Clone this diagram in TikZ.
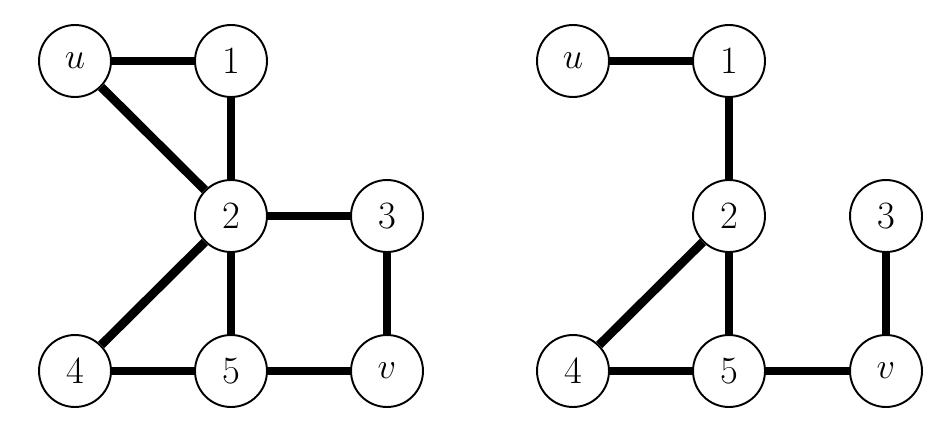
\documentclass[tikz,border=0pt]{standalone}
\begin{document}
\begin{tikzpicture}[x=0.02cm,y=-0.02cm,
  vtx/.style={circle,draw=black,line width=1.1pt,fill=white,minimum size=1.44cm,inner sep=0pt,font=\fontsize{22}{26}\selectfont},
  edge/.style={line width=5pt}]
\useasboundingbox (0,0) rectangle (949,439);
% left graph
\node[vtx] (lu) at (75,61) {$u$};
\node[vtx] (l1) at (231,61) {1};
\node[vtx] (l2) at (231,216) {2};
\node[vtx] (l3) at (387,216) {3};
\node[vtx] (l4) at (75,371) {4};
\node[vtx] (l5) at (231,371) {5};
\node[vtx] (lv) at (387,371) {$v$};
\draw[edge] (lu) -- (l1);
\draw[edge] (lu) -- (l2);
\draw[edge] (l1) -- (l2);
\draw[edge] (l2) -- (l3);
\draw[edge] (l2) -- (l4);
\draw[edge] (l2) -- (l5);
\draw[edge] (l3) -- (lv);
\draw[edge] (l4) -- (l5);
\draw[edge] (l5) -- (lv);
% right graph
\node[vtx] (ru) at (573,61) {$u$};
\node[vtx] (r1) at (729,61) {1};
\node[vtx] (r2) at (729,216) {2};
\node[vtx] (r3) at (886,216) {3};
\node[vtx] (r4) at (573,371) {4};
\node[vtx] (r5) at (729,371) {5};
\node[vtx] (rv) at (886,371) {$v$};
\draw[edge] (ru) -- (r1);
\draw[edge] (r1) -- (r2);
\draw[edge] (r2) -- (r4);
\draw[edge] (r2) -- (r5);
\draw[edge] (r4) -- (r5);
\draw[edge] (r5) -- (rv);
\draw[edge] (r3) -- (rv);
\end{tikzpicture}
\end{document}
